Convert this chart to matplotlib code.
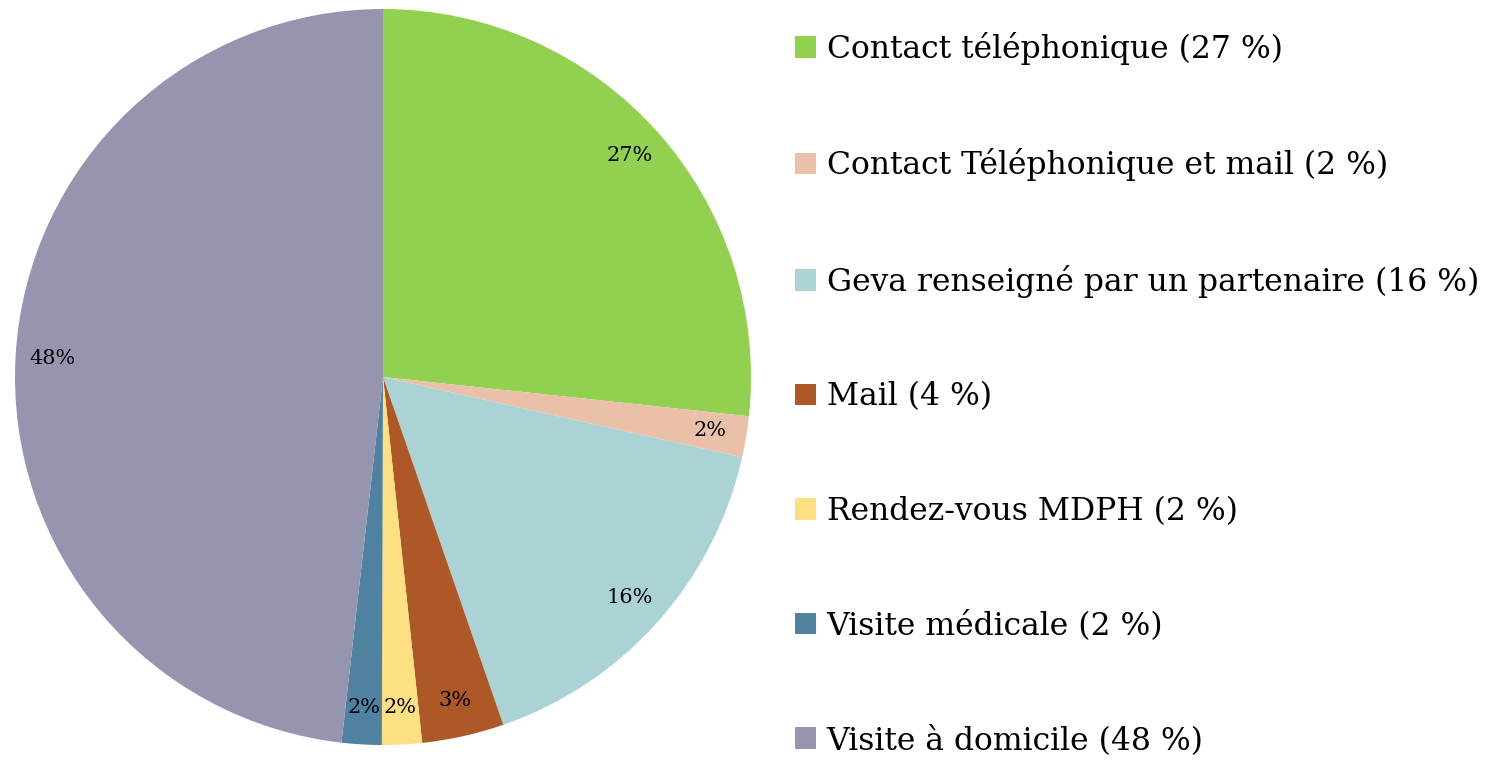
import matplotlib
matplotlib.use('Agg')
import matplotlib.pyplot as plt
from matplotlib.patches import Patch

# données
categories = ['Contact téléphonique', 'Contact Téléphonique et mail',
              'Geva renseigné par un partenaire', 'Mail', 'Rendez-vous MDPH',
              'Visite médicale', 'Visite à domicile']
legend_pct = [27, 2, 16, 4, 2, 2, 48]
values = [26.7, 1.8, 16.2, 3.6, 1.75, 1.75, 48.2]
slice_labels = ['27%', '2%', '16%', '3%', '2%', '2%', '48%']
colors = ['#92D050', '#EBC0A8', '#ABD3D6', '#AD5826', '#FDE082', '#4F81A1', '#9595AF']

plt.rcParams['font.family'] = ['DejaVu Serif']

fig = plt.figure(figsize=(14.94, 7.66), dpi=100)
ax = fig.add_axes([15 / 1494, 21 / 766, 736 / 1494, 736 / 766])

lab_iter = iter(slice_labels)
wedges, texts, autotexts = ax.pie(values, colors=colors, startangle=90, counterclock=False,
                                  autopct=lambda p: next(lab_iter), pctdistance=0.9,
                                  wedgeprops=dict(linewidth=0),
                                  textprops=dict(fontsize=15, color='black'))
ax.set_xlim(-1, 1)
ax.set_ylim(-1, 1)
ax.set_aspect('equal')

handles = [Patch(facecolor=c, edgecolor='none') for c in colors]
leg_labels = [f'{c} ({p} %)' for c, p in zip(categories, legend_pct)]
fig.legend(handles, leg_labels, loc='upper left', bbox_to_anchor=(795 / 1494, 1 - 32 / 766),
           frameon=False, fontsize=22.6, handlelength=0.66, handleheight=0.66,
           handletextpad=0.35, labelspacing=2.66, borderaxespad=0, borderpad=0)

fig.savefig('out.png', dpi=100)
